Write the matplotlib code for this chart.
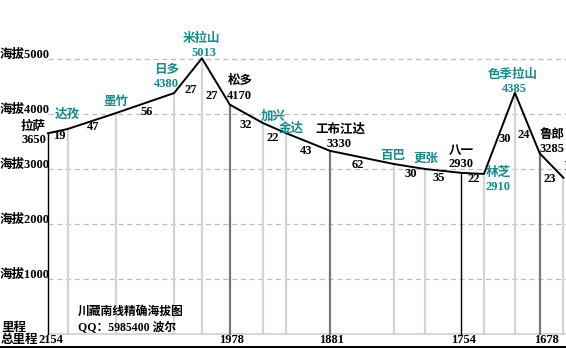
import matplotlib
matplotlib.use('Agg')
import matplotlib.pyplot as plt
import numpy as np

# ---------------- data ----------------
stations = ['拉萨', '达孜', '墨竹', '日多', '米拉山', '松多', '加兴', '金达', '工布江达',
            '百巴', '更张', '八一', '林芝', '色季拉山', '鲁郎', '东久']
segment_km = [19, 47, 56, 27, 27, 32, 22, 43, 62, 30, 35, 22, 30, 24, 23]
elevations = [3650, 3727, 4018, 4380, 5013, 4170, 3836, 3655, 3330,
              3090, 3000, 2930, 2910, 4385, 3285, 2840]
elev_labels = ['3650', '', '', '4380', '5013', '4170', '', '', '3330',
               '', '', '2930', '2910', '4385', '3285', '']
teal_label = [False, True, True, True, True, False, True, True, False,
              True, True, False, True, True, False, True]
milestone_labels = ['2154', '1978', '1881', '1754', '1678']
milestone_station = [0, 5, 8, 11, 14]
alt_ticks = [1000, 2000, 3000, 4000, 5000]
alt_tick_labels = ['海拔1000', '海拔2000', '海拔3000', '海拔4000', '海拔5000']
title_lines = ['川藏南线精确海拔图', 'QQ：5985400 波尔']

# ---------------- styles / positions ----------------
TEAL = '#138c8c'
FONT = ['Liberation Serif', 'Noto Sans CJK SC', 'DejaVu Sans']
W, H = 566, 348
X0, PX_PER_KM = 48, 1.033
Y0, PX_PER_M = 334, 0.055

# vertical line style per station: 'k' black, 'd' dark grey, 'l' light grey
vstyle = ['k', 'l', 'l', 'l', 'l', 'd', 'l', 'l', 'd', 'l', 'l', 'k', 'l', 'l', 'd', 'l']
vcolors = {'k': ('#000000', 1.0), 'd': ('#777777', 1.6), 'l': ('#d4d4d4', 1.6)}

# label offsets in pixels (dx, dy up) relative to station point
name_off = [(-15, 6), (0, 14), (0, 11), (-7, 23), (0, 19), (10, 24), (10, 6), (6, 4), (10, 21),
            (-1, 8), (1, 10), (0, 22), (14, 1), (-2, 18), (12, 18), (12, 10)]
elev_off = [(-14, -7), None, None, (-8, 9), (2, 5), (10, 9), None, None, (9, 7),
            None, None, (0, 9), (14, -13), (-1, 4), (12, 4), None]
seg_off = [(1, -5), (1, -6), (2, -9), (3, -14), (-4, -15), (-1, -11), (-1, -10), (-2, -9),
           (-4, -8), (1, -7), (-4, -7), (1, -6), (5, -6), (-4, -12), (-2, -13)]

fig = plt.figure(figsize=(W / 100, H / 100), dpi=100)
ax = fig.add_axes([0, 0, 1, 1])
ax.set_xlim(-X0 / PX_PER_KM, (W - X0) / PX_PER_KM)
ax.set_ylim((Y0 - H) / PX_PER_M, Y0 / PX_PER_M)
ax.axis('off')

cum_km = np.concatenate([[0], np.cumsum(segment_km)])
elev = np.array(elevations)

# grid lines
for t, lab in zip(alt_ticks, alt_tick_labels):
    ax.plot([0, cum_km[-1] + 10], [t, t], color='#bdbdbd', lw=0.9, ls=(0, (4, 3)), zorder=1)
    ax.annotate(lab, (0, t), xytext=(-23, 4), textcoords='offset pixels',
                ha='center', va='center', fontsize=9, fontweight='bold', family=FONT)

# baseline
ax.plot([0, cum_km[-1] + 10], [0, 0], color='#d0d0d0', lw=1.2, zorder=1)
ax.axhline((Y0 - 346.5) / PX_PER_M, color='black', lw=2.2, zorder=5)

# vertical lines
for x, e, s in zip(cum_km, elev, vstyle):
    c, lw = vcolors[s]
    ax.plot([x, x], [0, e], color=c, lw=lw, zorder=2)

# profile
ax.plot(cum_km, elev, color='black', lw=1.4, zorder=4)

# station labels
for i, (x, e) in enumerate(zip(cum_km, elev)):
    col = TEAL if teal_label[i] else 'black'
    ax.annotate(stations[i], (x, e), xytext=name_off[i], textcoords='offset pixels',
                ha='center', va='center', fontsize=9, fontweight='bold', color=col,
                family=FONT, zorder=6, annotation_clip=False)
    if elev_labels[i]:
        ax.annotate(elev_labels[i], (x, e), xytext=elev_off[i], textcoords='offset pixels',
                    ha='center', va='center', fontsize=9, fontweight='bold', color=col,
                    family=FONT, zorder=6)

# segment distances
for i, d in enumerate(segment_km):
    mx = (cum_km[i] + cum_km[i + 1]) / 2
    my = (elev[i] + elev[i + 1]) / 2
    ax.annotate(str(d), (mx, my), xytext=seg_off[i], textcoords='offset pixels',
                ha='center', va='center', fontsize=9, fontweight='bold', color='black',
                family=FONT, zorder=6)

# milestones
for lab, si in zip(milestone_labels, milestone_station):
    dx = 3 if si == 0 else (7 if si == 14 else 2)
    ax.annotate(lab, (cum_km[si], 0), xytext=(dx, -6), textcoords='offset pixels',
                ha='center', va='center', fontsize=9, fontweight='bold', family=FONT, zorder=7)
ax.annotate('总里程', (0, 0), xytext=(-29, -6), textcoords='offset pixels',
            ha='center', va='center', fontsize=9, fontweight='bold', family=FONT, zorder=7)
ax.annotate('里程', (0, 0), xytext=(-34, 6), textcoords='offset pixels',
            ha='center', va='center', fontsize=9, fontweight='bold', family=FONT, zorder=7)

# title
ax.annotate(title_lines[0], (0, 0), xytext=(30, 22), textcoords='offset pixels',
            ha='left', va='center', fontsize=8.5, fontweight='bold', family=FONT)
ax.annotate(title_lines[1], (0, 0), xytext=(30, 7), textcoords='offset pixels',
            ha='left', va='center', fontsize=8.5, fontweight='bold', family=FONT)

fig.savefig('out.png', dpi=100, facecolor='white')
